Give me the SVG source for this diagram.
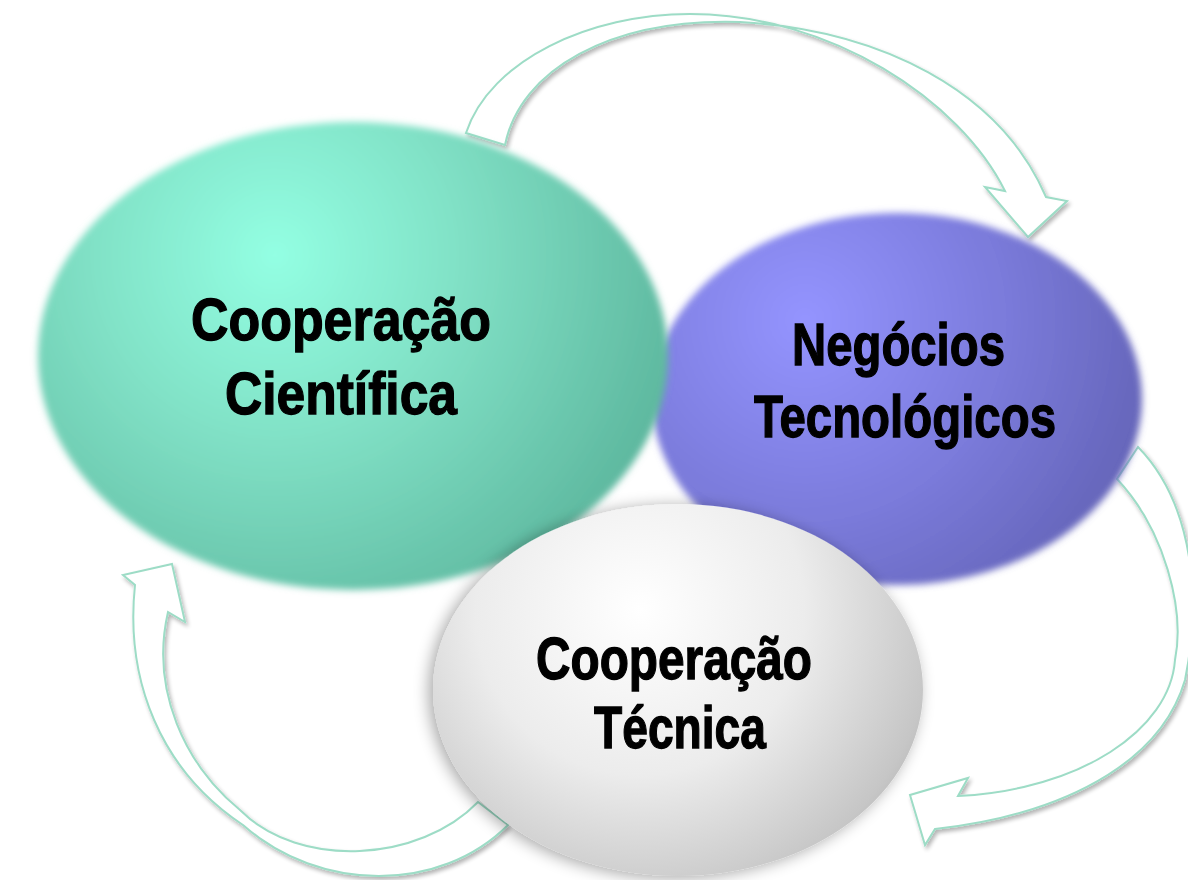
<svg xmlns="http://www.w3.org/2000/svg" width="1188" height="880" viewBox="0 0 1188 880">
<style>
.lbl{font-family:"Liberation Sans",Arial,sans-serif;font-weight:bold;font-size:60px;fill:#000;stroke:#000;stroke-width:1.3;}
.arrow{fill:#fff;stroke:#9ddcc6;stroke-width:2;stroke-linejoin:miter;filter:url(#ashadow);}
</style>
<defs>
<radialGradient id="gGreen" gradientUnits="userSpaceOnUse" cx="275" cy="255" r="420">
<stop offset="0" stop-color="#93ffe3"/>
<stop offset="0.45" stop-color="#80e0c5"/>
<stop offset="1" stop-color="#5db79e"/>
</radialGradient>
<radialGradient id="gPurple" gradientUnits="userSpaceOnUse" cx="805" cy="320" r="360">
<stop offset="0" stop-color="#9494ff"/>
<stop offset="0.55" stop-color="#7b7bdb"/>
<stop offset="1" stop-color="#6464b8"/>
</radialGradient>
<radialGradient id="gWhite" gradientUnits="userSpaceOnUse" cx="640" cy="610" r="330">
<stop offset="0" stop-color="#ffffff"/>
<stop offset="0.5" stop-color="#ececec"/>
<stop offset="0.9" stop-color="#c6c6c6"/>
<stop offset="1" stop-color="#b4b4b4"/>
</radialGradient>
<filter id="soft" x="-10%" y="-10%" width="120%" height="120%">
<feGaussianBlur stdDeviation="3.5"/>
</filter>
<filter id="wshadow" x="-15%" y="-15%" width="130%" height="130%">
<feGaussianBlur in="SourceAlpha" stdDeviation="8"/>
<feOffset dx="-4" dy="2" result="b"/>
<feComponentTransfer><feFuncA type="linear" slope="0.35"/></feComponentTransfer>
<feMerge><feMergeNode/><feMergeNode in="SourceGraphic"/></feMerge>
</filter>
<filter id="ashadow" x="-10%" y="-10%" width="120%" height="120%">
<feGaussianBlur in="SourceAlpha" stdDeviation="2"/>
<feOffset dx="2" dy="3"/>
<feComponentTransfer><feFuncA type="linear" slope="0.3"/></feComponentTransfer>
<feMerge><feMergeNode/><feMergeNode in="SourceGraphic"/></feMerge>
</filter>
</defs>
<rect width="1188" height="880" fill="#fff"/>
<g id="connectors">
<path class="arrow" d="M466,133 C490,60 590,14 690,14 C830,14 960,100 1005,191 L985,187 L1028,237 L1067,201 L1046,197 C1000,90 880,30 740,22 C610,18 520,70 505,145 Z"/>
<path class="arrow" d="M1138,447 C1185,495 1205,580 1185,680 C1160,765 1060,815 935,829 L925,845 L910,795 L968,778 L958,796 C1080,790 1170,730 1175,660 C1185,610 1165,530 1117,479 Z"/>
<path class="arrow" d="M508,825 C440,893 320,893 243,825 C160,770 125,680 135,585 L123,575 L172,564 L185,622 L168,612 C150,690 185,765 240,810 C300,870 420,862 478,802 Z"/>
</g>
<g id="node-negocios">
<ellipse cx="897" cy="399" rx="245" ry="186" fill="url(#gPurple)" filter="url(#soft)"/>
<text class="lbl" x="792" y="365" textLength="213" lengthAdjust="spacingAndGlyphs">Negócios</text>
<text class="lbl" x="754" y="437" textLength="302" lengthAdjust="spacingAndGlyphs">Tecnológicos</text>
</g>
<g id="node-cientifica">
<ellipse cx="353" cy="356" rx="315" ry="234" fill="url(#gGreen)" filter="url(#soft)"/>
<text class="lbl" x="191" y="340" textLength="300" lengthAdjust="spacingAndGlyphs">Cooperação</text>
<text class="lbl" x="225" y="414" textLength="232" lengthAdjust="spacingAndGlyphs">Científica</text>
</g>
<g id="node-tecnica">
<ellipse cx="678" cy="690" rx="245" ry="186" fill="url(#gWhite)" filter="url(#wshadow)"/>
<text class="lbl" x="536" y="679" textLength="276" lengthAdjust="spacingAndGlyphs">Cooperação</text>
<text class="lbl" x="594" y="748" textLength="172" lengthAdjust="spacingAndGlyphs">Técnica</text>
</g>
</svg>
